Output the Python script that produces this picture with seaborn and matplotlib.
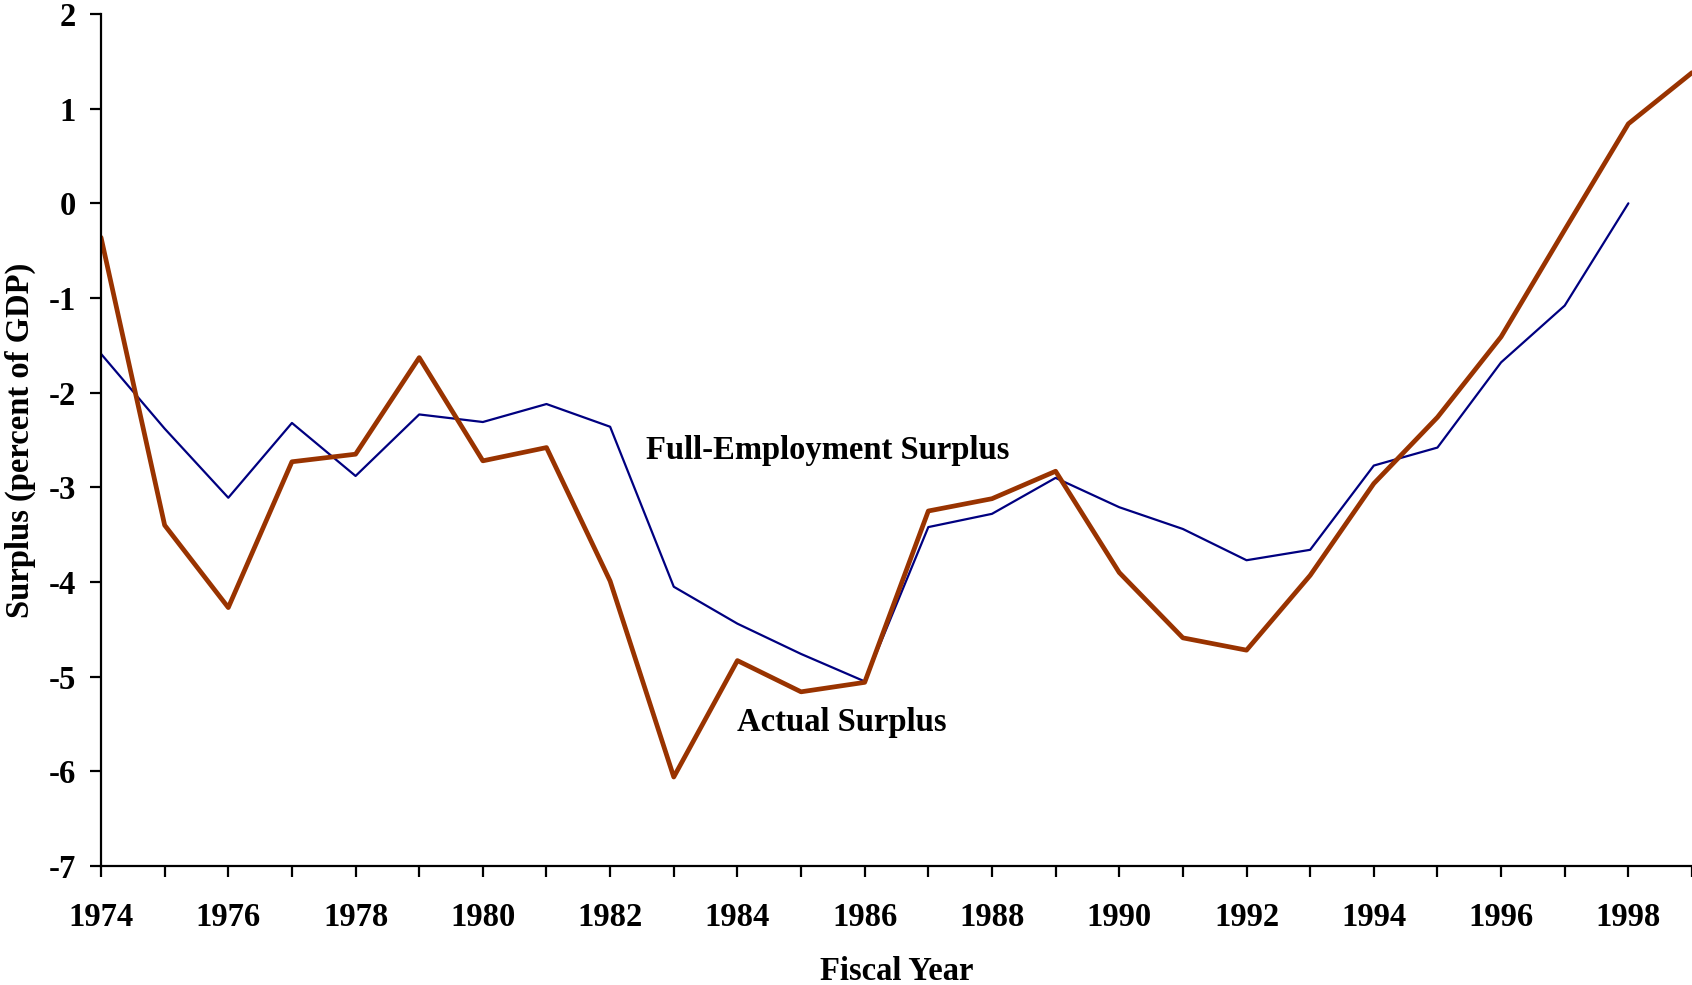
import pandas as pd
import matplotlib.pyplot as plt
import seaborn as sns

# Surplus as percent of GDP
years_actual = list(range(1974, 2000))
actual = [-0.36, -3.40, -4.27, -2.73, -2.65, -1.63, -2.72, -2.58, -3.99, -6.06,
          -4.83, -5.16, -5.06, -3.25, -3.12, -2.83, -3.90, -4.59, -4.72, -3.93,
          -2.96, -2.26, -1.41, -0.28, 0.84, 1.38]

years_full = list(range(1974, 1999))
full_emp = [-1.59, -2.38, -3.11, -2.32, -2.88, -2.23, -2.31, -2.12, -2.36, -4.05,
            -4.44, -4.76, -5.05, -3.42, -3.28, -2.90, -3.21, -3.44, -3.77, -3.66,
            -2.77, -2.58, -1.68, -1.08, 0.00]

df_actual = pd.DataFrame({'year': years_actual, 'surplus': actual})
df_full = pd.DataFrame({'year': years_full, 'surplus': full_emp})

sns.set_style('ticks')
plt.rcParams['font.family'] = ['Liberation Serif', 'DejaVu Serif']
plt.rcParams['font.weight'] = 'bold'
plt.rcParams['axes.unicode_minus'] = False
plt.rcParams['text.color'] = 'black'
plt.rcParams['axes.labelcolor'] = 'black'
plt.rcParams['xtick.color'] = 'black'
plt.rcParams['ytick.color'] = 'black'

fs = 23.5

fig = plt.figure(figsize=(16.92, 9.85), dpi=100)
ax = fig.add_axes([0.0597, 0.1208, 0.9403, 0.865])

sns.lineplot(data=df_full, x='year', y='surplus', color='#000080', linewidth=1.6, ax=ax)
sns.lineplot(data=df_actual, x='year', y='surplus', color='#993300', linewidth=3.4, ax=ax)

ax.set_xlim(1974, 1999)
ax.set_ylim(-7, 2)
ax.set_xticks(range(1974, 2000))
ax.set_xticklabels([str(y) if y % 2 == 0 else '' for y in range(1974, 2000)])
ax.set_yticks(range(-7, 3))
ax.tick_params(axis='both', labelsize=fs, length=8, width=1.6,
               color='black', labelcolor='black')
ax.tick_params(axis='x', pad=18)
ax.tick_params(axis='y', pad=10)
for lbl in ax.get_xticklabels() + ax.get_yticklabels():
    lbl.set_fontweight('bold')

ax.set_xlabel('Fiscal Year', fontsize=fs, fontweight='bold', color='black')
ax.set_ylabel('Surplus (percent of GDP)', fontsize=fs, fontweight='bold', color='black')
ax.xaxis.set_label_coords(0.5, -0.106)
ax.yaxis.set_label_coords(-0.041, 0.5)

for side in ['top', 'right']:
    ax.spines[side].set_visible(False)
for side in ['left', 'bottom']:
    ax.spines[side].set_linewidth(1.6)
    ax.spines[side].set_color('black')
ax.grid(False)

ax.text(1982.56, -2.61, 'Full-Employment Surplus', fontsize=fs, fontweight='bold',
        va='center', color='black')
ax.text(1984.0, -5.48, 'Actual Surplus', fontsize=fs, fontweight='bold',
        va='center', color='black')

fig.savefig('out.png', dpi=100)
plt.close(fig)
